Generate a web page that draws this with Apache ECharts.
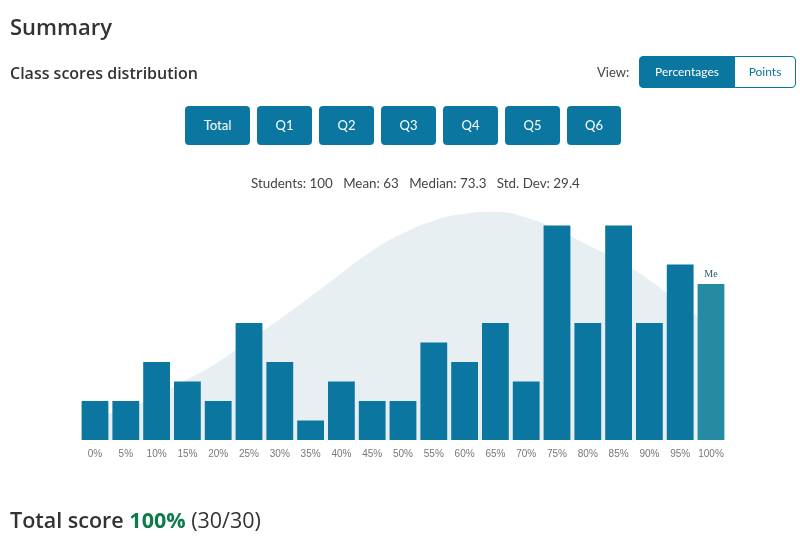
<!DOCTYPE html>
<html>
<head>
<meta charset="utf-8">
<script src="https://cdn.jsdelivr.net/npm/echarts@6/dist/echarts.min.js"></script>
<style>
  html, body { margin: 0; padding: 0; background: #fff; width: 800px; height: 540px; overflow: hidden; }
  #chart { position: absolute; left: 0; top: 0; width: 800px; height: 540px; }
  .t { position: absolute; font-family: "Open Sans", "Noto Sans", sans-serif; color: #333; white-space: nowrap; }
  #h1 { left: 10px; top: 10px; font-size: 22px; font-weight: 600; line-height: 32px; }
  #h2 { left: 10px; top: 61px; font-size: 16px; font-weight: 600; line-height: 24px; }
  #view { left: 597px; top: 62px; font-family: Lato, sans-serif; font-size: 13px; color: #444; line-height: 20px; }
  .tog { position: absolute; top: 56px; height: 32px; box-sizing: border-box; font-family: Lato, sans-serif; font-size: 12px; line-height: 30px; text-align: center; border: 1px solid #0b77a0; }
  #pct { left: 639px; width: 96px; background: #0b77a0; color: #fff; border-radius: 4px 0 0 4px; }
  #pts { left: 734px; width: 62px; background: #fff; color: #0b77a0; border-radius: 0 4px 4px 0; }
  .btn { position: absolute; top: 106px; height: 39px; background: #0b77a0; color: #fff; border-radius: 4px; font-family: Lato, sans-serif; font-size: 13px; line-height: 39px; text-align: center; }
  #foot { left: 10px; top: 504px; font-size: 21.5px; line-height: 32px; color: #333; }
  #foot b.s { font-weight: 600; }
  #foot b.g { font-weight: 700; color: #0d7c4a; }
</style>
</head>
<body>
<div id="chart"></div>
<div class="t" id="h1">Summary</div>
<div class="t" id="h2">Class scores distribution</div>
<div class="t" id="view">View:</div>
<div class="tog" id="pct">Percentages</div>
<div class="tog" id="pts">Points</div>
<div id="btns"></div>
<div class="t" id="foot"><b class="s">Total score</b> <b class="g">100%</b> (30/30)</div>
<script>
const categories = ['0%','5%','10%','15%','20%','25%','30%','35%','40%','45%','50%','55%','60%','65%','70%','75%','80%','85%','90%','95%','100%'];
const counts = [2,2,4,3,2,6,4,1,3,2,2,5,4,6,3,11,6,11,6,9,8];
const curve = [1.2,1.6,2.3,3.1,4.0,5.1,6.2,7.35,8.55,9.7,10.6,11.25,11.6,11.7,11.4,10.8,10.0,9.2,8.2,7.0,5.9];
const myIndex = 20;
const myLabel = 'Me';
const buttons = ['Total','Q1','Q2','Q3','Q4','Q5','Q6'];
const stats = 'Students: 100   Mean: 63   Median: 73.3   Std. Dev: 29.4';

// buttons row
const btnLeft = [185,257,319,381,443,505,567];
const btnWidth = [65,55,55,55,55,55,54];
const bc = document.getElementById('btns');
buttons.forEach((b, i) => {
  const d = document.createElement('div');
  d.className = 'btn';
  d.style.left = btnLeft[i] + 'px';
  d.style.width = btnWidth[i] + 'px';
  d.textContent = b;
  bc.appendChild(d);
});

const chart = echarts.init(document.getElementById('chart'), null, { renderer: 'canvas' });
const barData = counts.map((v, i) => i === myIndex ? {
  value: v,
  itemStyle: { color: '#258ba2' },
  label: { show: true, position: 'top', formatter: myLabel, fontFamily: 'Liberation Serif, serif', fontSize: 10, color: '#2e5e70', distance: 5 }
} : v);

chart.setOption({
  animation: false,
  title: {
    text: stats,
    left: 246, top: 172,
    textStyle: { fontFamily: 'Lato, sans-serif', fontSize: 13.4, fontWeight: 'normal', color: '#444' }
  },
  grid: { left: 79.6, right: 800 - 726.4, top: 206, bottom: 100, containLabel: false },
  xAxis: {
    type: 'category', data: categories, boundaryGap: true,
    axisLine: { show: false }, axisTick: { show: false },
    axisLabel: { color: '#777', fontSize: 10, margin: 9, fontFamily: 'Liberation Sans, Arial, sans-serif', interval: 0 }
  },
  yAxis: { type: 'value', min: 0, max: 12, show: false, splitLine: { show: false } },
  series: [
    {
      type: 'line', data: curve, smooth: true, symbol: 'none', z: 1,
      lineStyle: { width: 0 }, areaStyle: { color: '#e8eff2', opacity: 1 }
    },
    {
      type: 'bar', data: barData, z: 2, barCategoryGap: '13%',
      itemStyle: { color: '#0b76a0' }
    }
  ]
});
</script>
</body>
</html>
